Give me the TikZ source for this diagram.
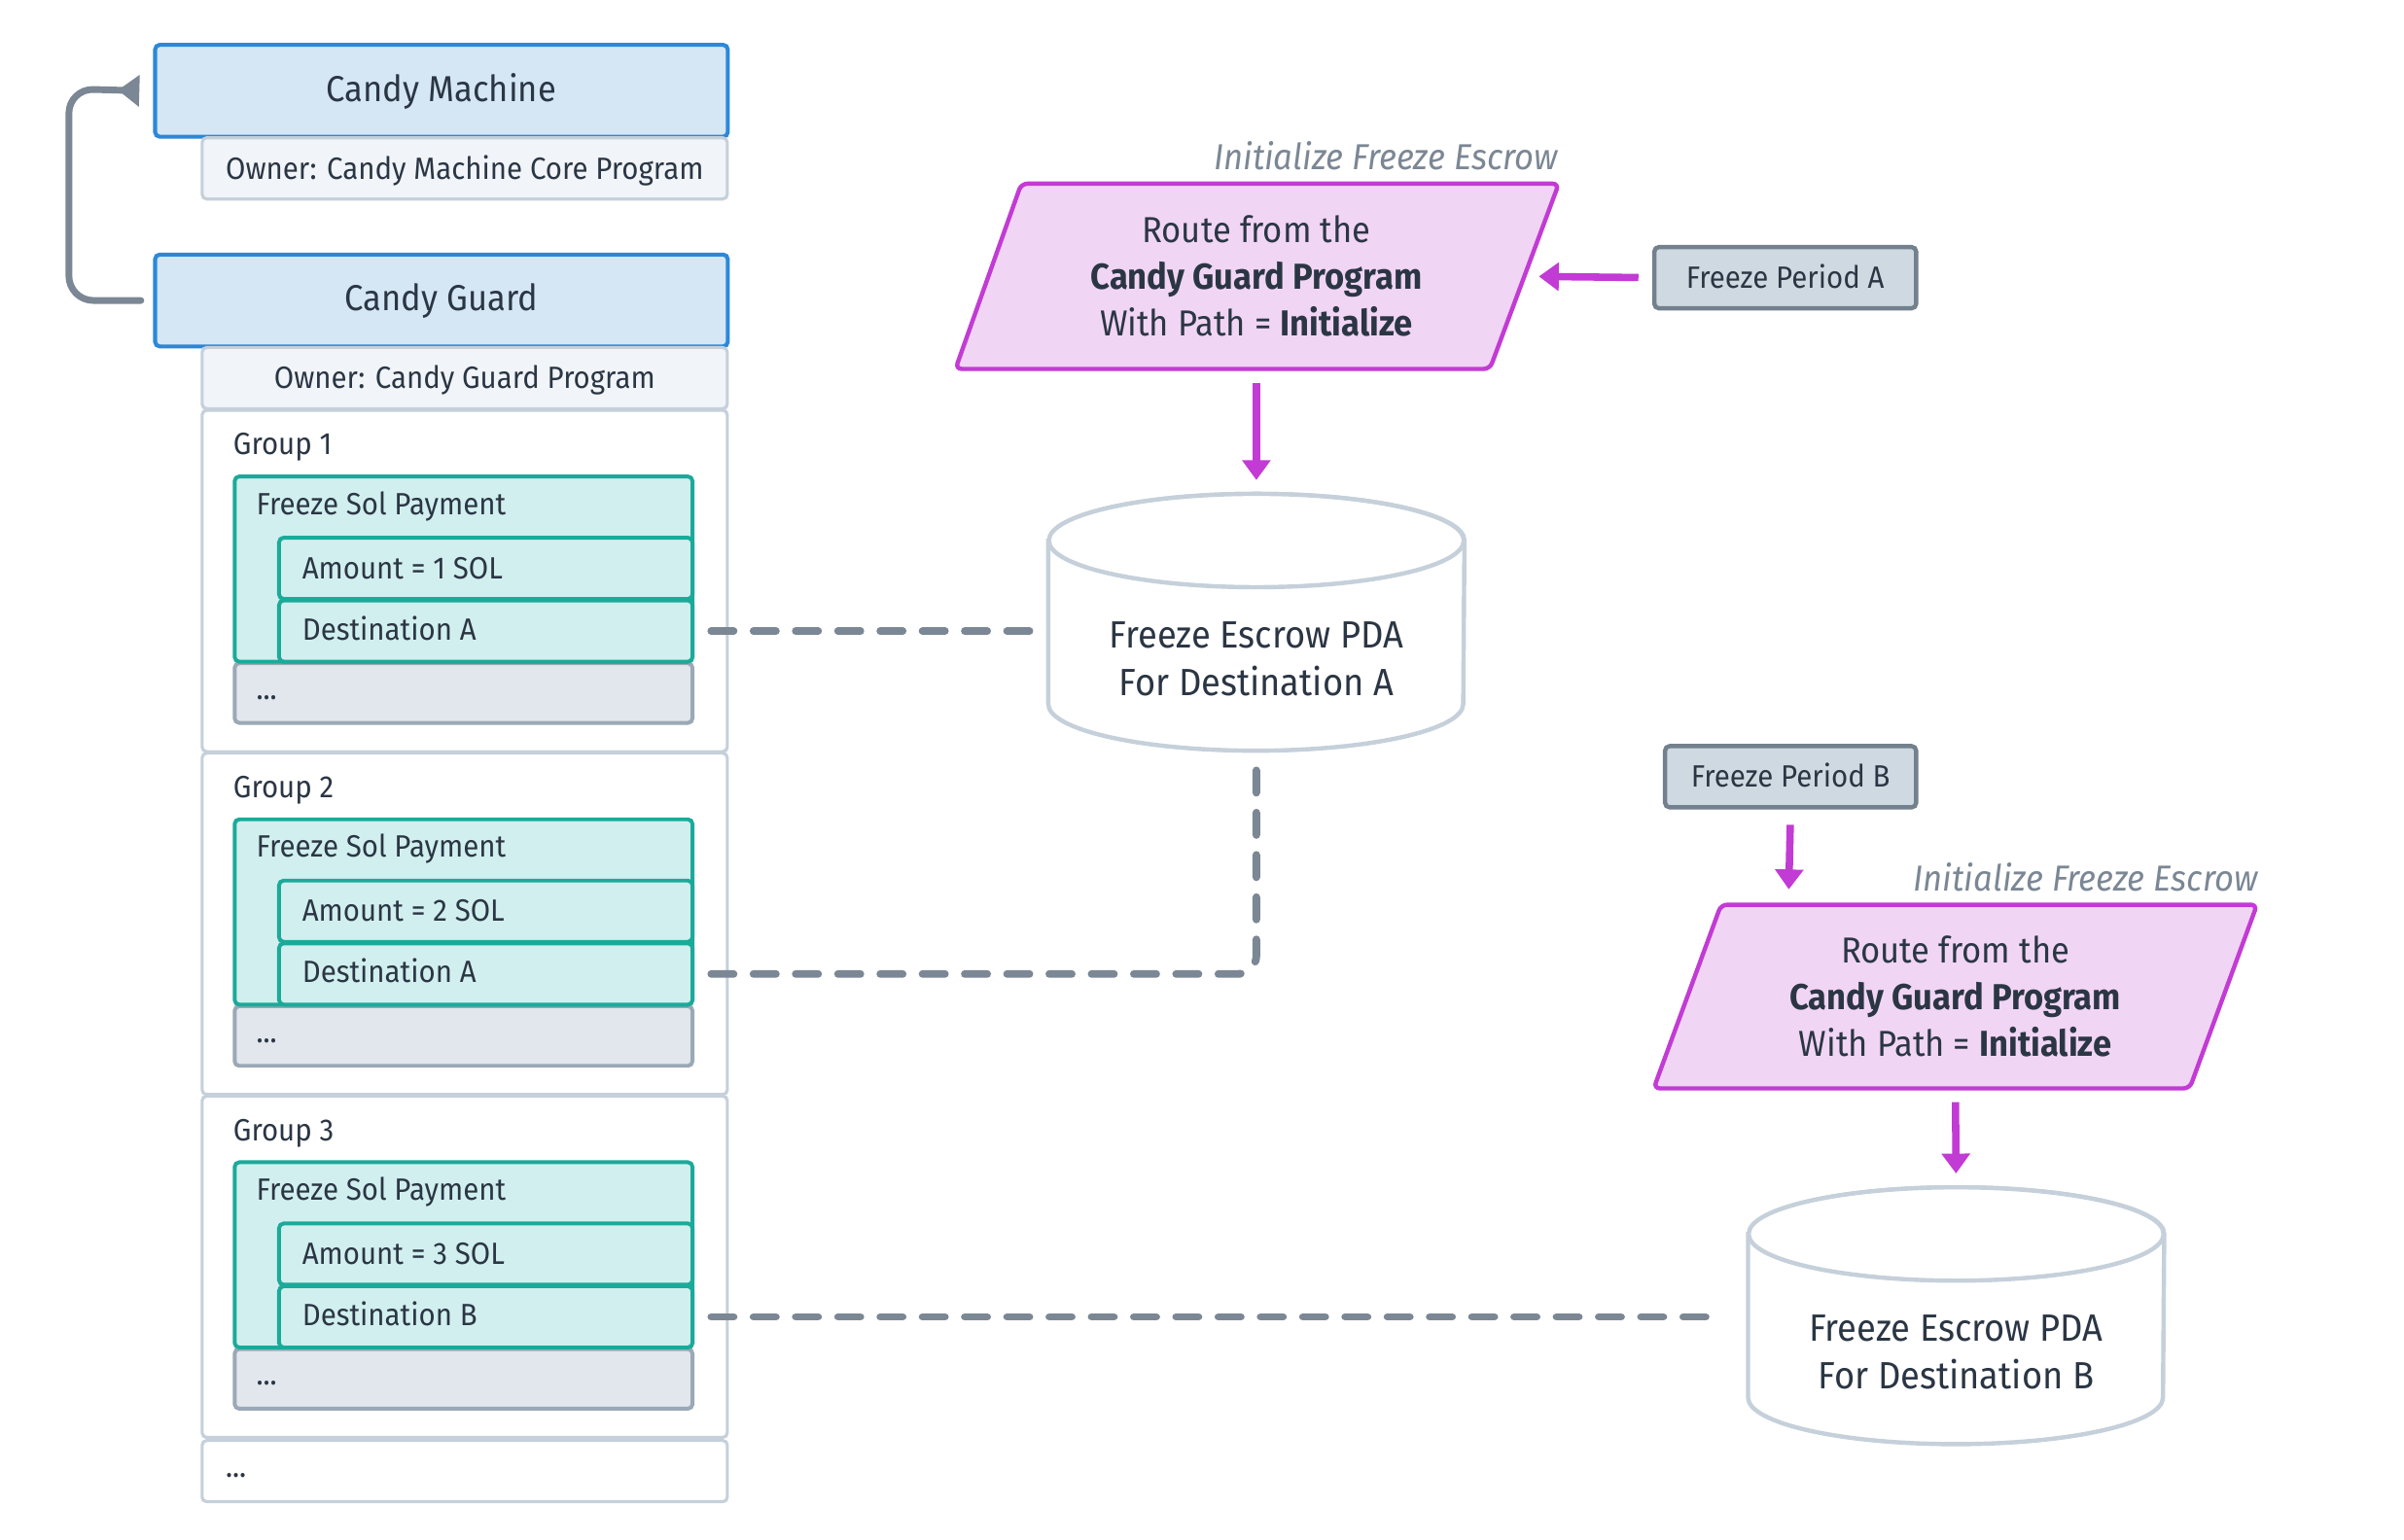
\documentclass[tikz,border=0pt]{standalone}
\usepackage{fontspec}
\setmainfont[FakeStretch=0.93]{Fira Sans}
\usetikzlibrary{arrows.meta,calc}

\definecolor{txt}{HTML}{2B3644}
\definecolor{cmblue}{HTML}{2C88D9}
\definecolor{cmfill}{HTML}{D5E6F5}
\definecolor{ownline}{HTML}{C5D0DA}
\definecolor{ownfill}{HTML}{F1F4F8}
\definecolor{tealline}{HTML}{1BAA9A}
\definecolor{tealfill}{HTML}{D1EFEE}
\definecolor{dotline}{HTML}{9BA8B5}
\definecolor{dotfill}{HTML}{E1E7EC}
\definecolor{conngray}{HTML}{7B8794}
\definecolor{mag}{HTML}{C23BD4}
\definecolor{magfill}{HTML}{F1D5F4}
\definecolor{fpline}{HTML}{73808D}
\definecolor{fpfill}{HTML}{CED9E1}
\definecolor{cylline}{HTML}{C5D0DA}

\newcommand{\bodyfont}{\fontsize{10.05}{12}\selectfont}
\newcommand{\bigfont}{\fontsize{11.8}{15.25}\selectfont}
\newcommand{\cylfont}{\fontsize{12.4}{15.5}\selectfont}

\begin{document}
\begin{tikzpicture}[x=0.5pt,y=-0.5pt,
  bluebox/.style={draw=cmblue, fill=cmfill, line width=1.3pt, rounded corners=1.5pt,
    minimum width=187pt, minimum height=30pt, anchor=north west, inner sep=0pt,
    text height=0.69em, text depth=0pt, font=\bigfont, text=txt},
  ownerbox/.style={draw=ownline, fill=ownfill, line width=1pt, rounded corners=1.5pt,
    minimum width=171.5pt, minimum height=20pt, anchor=north west, inner sep=0pt,
    text height=0.69em, text depth=0pt, font=\bodyfont, text=txt},
  groupbox/.style={draw=ownline, fill=white, line width=1pt, rounded corners=1.5pt,
    minimum width=171.5pt, anchor=north west, inner sep=0pt},
  tealbox/.style={draw=tealline, fill=tealfill, line width=1.25pt, rounded corners=1.5pt,
    anchor=north west, inner sep=0pt},
  dotsbox/.style={draw=dotline, fill=dotfill, line width=1.25pt, rounded corners=1.5pt,
    anchor=north west, inner sep=0pt, minimum width=149.5pt, minimum height=19.5pt},
  lbl/.style={anchor=base west, inner sep=0pt, font=\bodyfont, text=txt},
  fpbox/.style={draw=fpline, fill=fpfill, line width=1.4pt, rounded corners=1.5pt,
    minimum height=20pt, anchor=north west, inner sep=0pt,
    text height=0.69em, text depth=0pt, font=\bodyfont, text=txt},
  para/.style={draw=mag, fill=magfill, line width=1.4pt, rounded corners=2pt},
  paratext/.style={align=center, font=\bigfont, text=txt, inner sep=0pt},
  cylshape/.style={draw=cylline, fill=white, line width=1.4pt},
  cylframe/.style={draw=none, inner sep=0pt, minimum width=135.5pt, minimum height=83.5pt},
  cyltext/.style={align=center, font=\cylfont, text=txt, inner sep=0pt},
  steplabel/.style={anchor=base east, inner sep=0pt, font=\bigfont\itshape, text=conngray},
  marrow/.style={draw=mag, line width=2.4pt, -{Triangle[width=9pt,length=6.5pt]}},
  dashline/.style={draw=conngray, line width=2.5pt, line cap=round, dash pattern=on 7.3pt off 6.5pt},
  loopline/.style={draw=conngray, line width=2.2pt, line cap=round, rounded corners=8pt,
    -{Triangle[reversed,width=10pt,length=7pt]}}
]
\useasboundingbox[fill=white] (0,0) rectangle (1570,1006);

% ---------- left column ----------
\node[bluebox] (cm) at (100,28) {Candy Machine};
\node[ownerbox] (ocm) at (131,89) {Owner: Candy Machine Core Program};
\node[bluebox] (cg) at (100,165) {Candy Guard};
\node[ownerbox] (ocg) at (131,226) {Owner: Candy Guard Program};

\foreach \i/\amt/\dst in {1/1/A,2/2/A,3/3/B}{
  \pgfmathsetmacro\t{267+224*(\i-1)}
  \node[groupbox, minimum height=111.5pt] (g\i) at (131,\t) {};
  \node[dotsbox] (dots\i) at (152,\t+165) {};
  \node[tealbox, minimum width=149.5pt, minimum height=60.5pt] (fsp\i) at (152,\t+43) {};
  \node[tealbox, minimum width=135pt, minimum height=20pt] (amt\i) at (181,\t+83) {};
  \node[tealbox, minimum width=135pt, minimum height=20pt] (dst\i) at (181,\t+124) {};
  \node[lbl] (gl\i) at (152,\t+30) {Group \i};
  \node[lbl] (fspl\i) at (167,\t+69) {Freeze Sol Payment};
  \node[lbl] (amtl\i) at (197,\t+111) {Amount = \amt\ SOL};
  \node[lbl] (dstl\i) at (197,\t+151) {Destination \dst};
  \node[lbl] (dotsl\i) at (167,\t+190) {...};
}
\node[groupbox, minimum height=20pt] (glast) at (131,940) {};
\node[lbl] (glastl) at (147,965) {...};

% loop connector Candy Guard -> Candy Machine
\coordinate (loopc) at (45,58);
\draw[loopline] ($(cg.west)+(-8,0)$) -| (loopc) -- ($(cm.west)+(-9,0)$);

% ---------- escrow A ----------
\draw[para] (667,120) -- (1018,120) -- (973,241) -- (624,241) -- cycle;
\node[paratext] (paraA) at (820.5,180) {Route from the\\ \textbf{Candy Guard Program}\\ With Path = \textbf{Initialize}};
\coordinate (paraAe) at (995.5,180.5);
\coordinate (paraAs) at (820.5,241);
\node[steplabel] (stepA) at (1018,111) {Initialize Freeze Escrow};

\node[fpbox, minimum width=85.5pt] (fpa) at (1079,160) {Freeze Period A};
\draw[marrow, shorten <=4.5pt, shorten >=4.75pt] (fpa.west) -- (paraAe);

\node[cylframe] (cylA) at (820.5,406.5) {};
\draw[cylshape] ($(cylA.north west)+(0,30.5)$) -- ($(cylA.south west)+(0,-30.5)$)
  arc[start angle=180,end angle=360,x radius=67.75pt,y radius=15.25pt]
  -- ($(cylA.north east)+(0,30.5)$)
  arc[start angle=0,end angle=180,x radius=67.75pt,y radius=15.25pt] -- cycle;
\draw[cylshape] ($(cylA.north)+(0,30.5)$) ellipse[x radius=67.75pt,y radius=15.25pt];
\node[cyltext] (cylAt) at (820.5,430.5) {Freeze Escrow PDA\\For Destination A};
\draw[marrow, shorten <=4.5pt, shorten >=4.5pt] (paraAs) -- (cylA.north);

% ---------- escrow B ----------
\node[fpbox, minimum width=82pt] (fpb) at (1086,486) {Freeze Period B};
\draw[para] (1124,591) -- (1474,591) -- (1430,711) -- (1080,711) -- cycle;
\node[paratext] (paraB) at (1277,651) {Route from the\\ \textbf{Candy Guard Program}\\ With Path = \textbf{Initialize}};
\coordinate (paraBn) at (1168,591);
\coordinate (paraBs) at (1277,711);
\node[steplabel] (stepB) at (1475,582) {Initialize Freeze Escrow};
\draw[marrow, shorten <=5pt, shorten >=5pt] (fpb.south) -- (paraBn);

\node[cylframe] (cylB) at (1277.5,859.5) {};
\draw[cylshape] ($(cylB.north west)+(0,30.5)$) -- ($(cylB.south west)+(0,-30.5)$)
  arc[start angle=180,end angle=360,x radius=67.75pt,y radius=15.25pt]
  -- ($(cylB.north east)+(0,30.5)$)
  arc[start angle=0,end angle=180,x radius=67.75pt,y radius=15.25pt] -- cycle;
\draw[cylshape] ($(cylB.north)+(0,30.5)$) ellipse[x radius=67.75pt,y radius=15.25pt];
\node[cyltext] (cylBt) at (1277.5,883.5) {Freeze Escrow PDA\\For Destination B};
\draw[marrow, shorten <=4.5pt, shorten >=4.5pt] (paraBs) -- (cylB.north);

% ---------- dashed links ----------
\draw[dashline, shorten <=5.5pt, shorten >=6pt] (dst1.east) -- (dst1.east -| cylA.west);
\draw[dashline, rounded corners=6pt, shorten <=5.5pt, shorten >=6pt] (dst2.east) -| (cylA.south);
\draw[dashline, shorten <=5.5pt, shorten >=12pt] (dst3.east) -- (dst3.east -| cylB.west);
\end{tikzpicture}
\end{document}
